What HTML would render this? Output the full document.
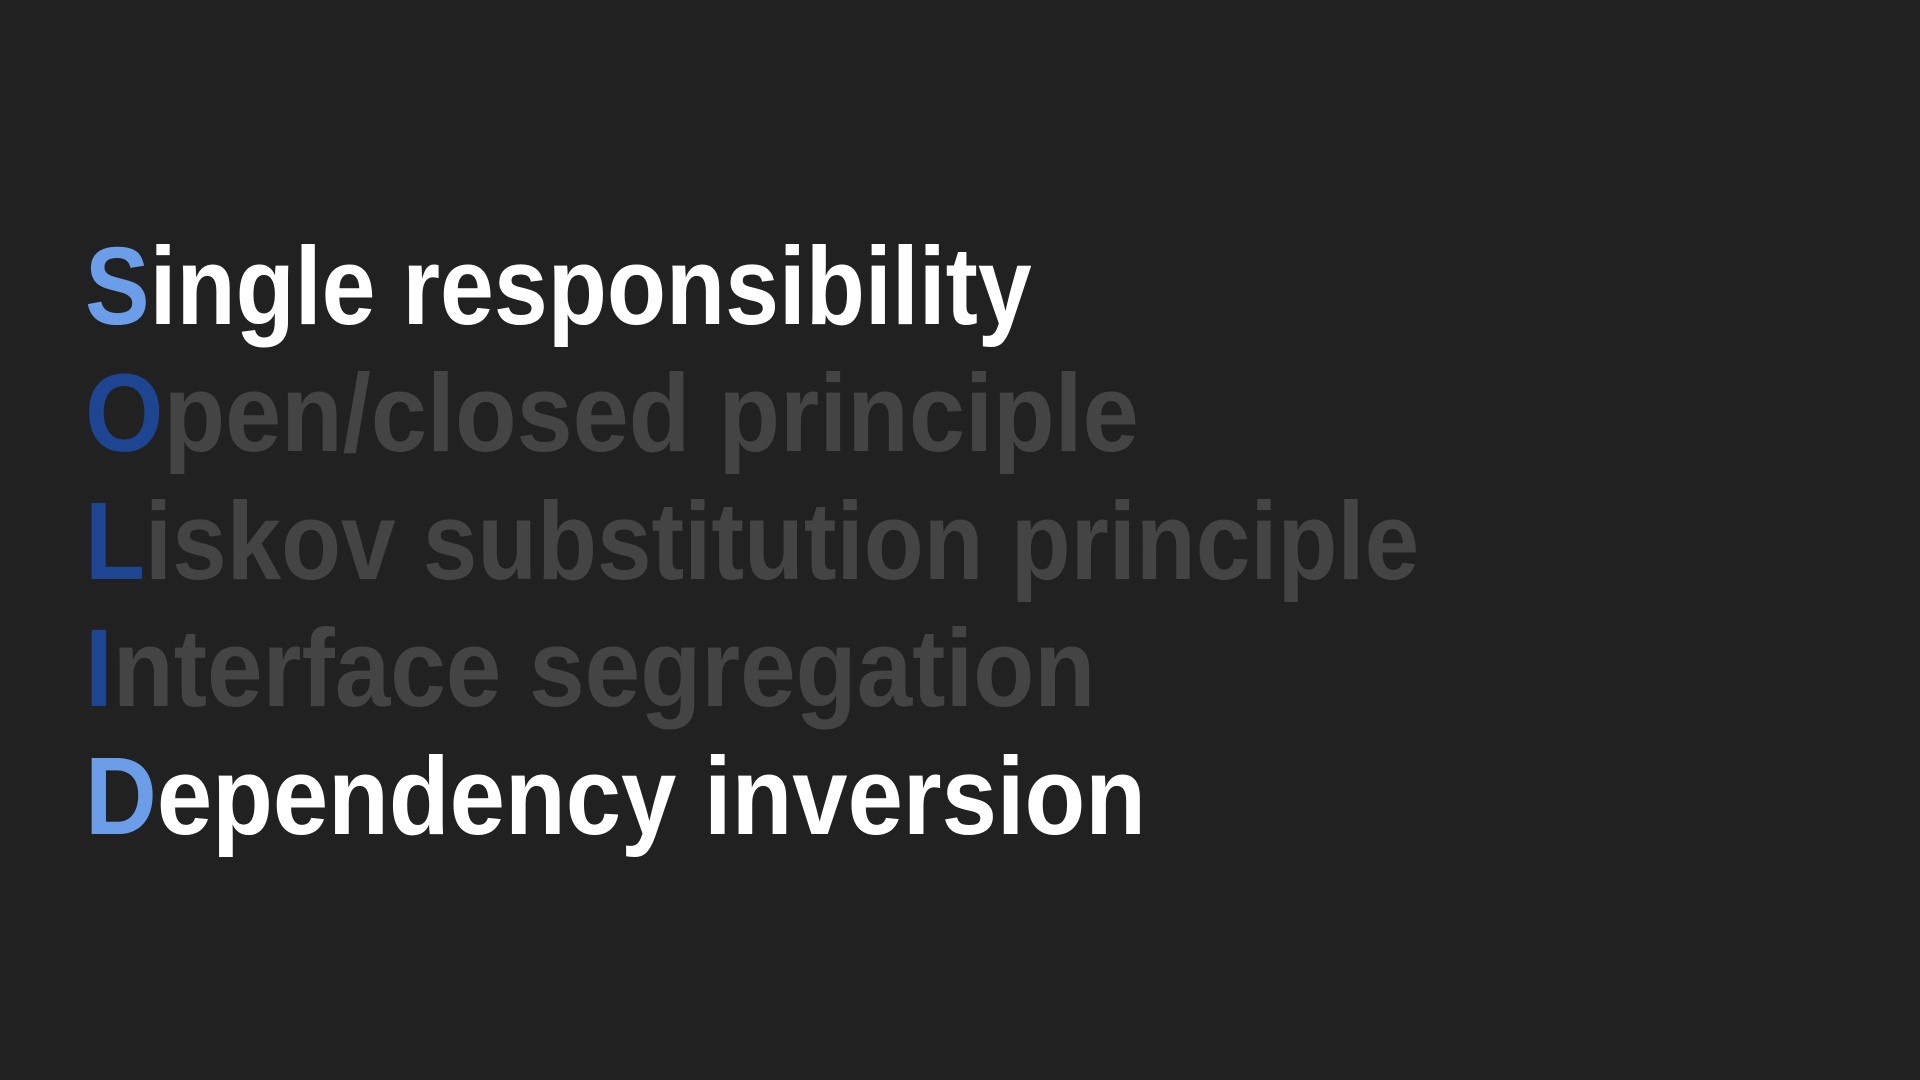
<!DOCTYPE html>
<html><head><meta charset="utf-8"><style>
html,body{margin:0;padding:0;background:#212121;width:1920px;height:1080px;overflow:hidden}
.l{position:absolute;left:85px;font-family:"Liberation Sans",sans-serif;font-weight:bold;font-size:110px;line-height:110px;white-space:nowrap;transform-origin:0 0;color:#444444}
.w{color:#ffffff}
.lb{color:#6b9de8}
.db{color:#1d4591}
</style></head><body>
<div class="l w" style="top:232px;transform:scaleX(0.88)"><span class="lb">S</span>ingle responsibility</div>
<div class="l" style="top:359px;transform:scaleX(0.917)"><span class="db">O</span>pen/closed principle</div>
<div class="l" style="top:487px;transform:scaleX(0.891)"><span class="db">L</span>iskov substitution principle</div>
<div class="l" style="top:614px;transform:scaleX(0.908)"><span class="db">I</span>nterface segregation</div>
<div class="l w" style="top:742px;transform:scaleX(0.904)"><span class="lb">D</span>ependency inversion</div>
</body></html>
